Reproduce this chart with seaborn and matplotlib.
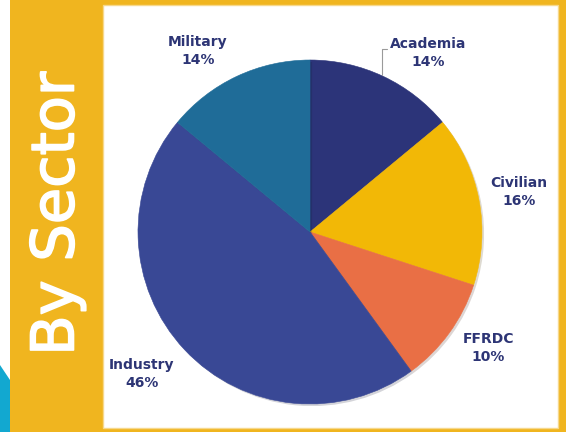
import matplotlib
matplotlib.use("Agg")
import matplotlib.pyplot as plt
import matplotlib.patches as mpatches
import matplotlib.patheffects as pe
import seaborn as sns

# data
sectors = ["Academia", "Civilian", "FFRDC", "Industry", "Military"]
shares = [14, 16, 10, 46, 14]
slice_colors = ["#2c3479", "#f2b806", "#e96f45", "#394895", "#1f6c98"]

# label spots (pie data units, radius = 1)
label_x = [0.686, 1.215, 1.035, -0.977, -0.651]
label_y = [1.041, 0.233, -0.674, -0.826, 1.052]

sns.set_theme(style="white")
plt.rcParams["font.family"] = ["DejaVu Sans"]

yellow = "#f0b51f"
navy_text = "#2d3575"

fig = plt.figure(figsize=(5.66, 4.32), dpi=100, facecolor=yellow)

# background decorations in pixel-ish figure coords
W, H = 566, 432
fig.patches.append(mpatches.Rectangle((0, 0), 10 / W, 1, transform=fig.transFigure,
                                      facecolor="white", edgecolor="none", zorder=-2))
fig.patches.append(mpatches.Polygon([(0, 1 - 365 / H), (10 / W, 1 - 380 / H), (10 / W, 0), (0, 0)],
                                    closed=True, transform=fig.transFigure,
                                    facecolor="#12a8d0", edgecolor="none", zorder=-2))
fig.patches.append(mpatches.Rectangle((103 / W, 1 - 428 / H), (558 - 103) / W, (428 - 5) / H,
                                      transform=fig.transFigure, facecolor="white",
                                      edgecolor="#f6d88c", linewidth=1, zorder=-2))

fig.text(57 / W, 1 - 214 / H, "By Sector", rotation=90, color="white",
         fontsize=42.5, ha="center", va="center",
         path_effects=[pe.withStroke(linewidth=1.2, foreground="white")])

# pie axes: centre (310, 232) px, radius 172 px
cx, cy, r = 310, 232, 172
ax = fig.add_axes([(cx - r) / W, (H - cy - r) / H, 2 * r / W, 2 * r / H])
ax.set_facecolor("none")

palette = sns.color_palette(slice_colors)
wedges, _ = ax.pie(shares, colors=palette, startangle=90, counterclock=False,
                   radius=1, wedgeprops=dict(linewidth=0.4))
for w in wedges:
    w.set_edgecolor(w.get_facecolor())
    w.set_path_effects([pe.SimplePatchShadow(offset=(1.5, -1.5), alpha=0.18), pe.Normal()])

ax.set_xlim(-1, 1)
ax.set_ylim(-1, 1)
ax.set_aspect("equal")
ax.axis("off")

for name, val, lx, ly in zip(sectors, shares, label_x, label_y):
    ax.text(lx, ly, f"{name}\n{val}%", ha="center", va="center", fontsize=10,
            fontweight="bold", color=navy_text, linespacing=1.3, clip_on=False)

# leader line for Academia
ax.plot([0.419, 0.419, 0.45], [0.913, 1.064, 1.064], color="#9a9a9a", linewidth=0.8,
        clip_on=False)

fig.savefig("out.png", dpi=100, facecolor=fig.get_facecolor())
